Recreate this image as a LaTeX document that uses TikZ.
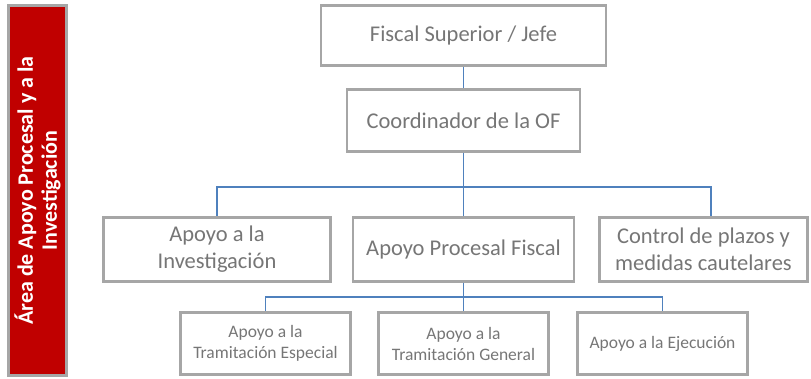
\documentclass[tikz,border=0pt]{standalone}
\usepackage{fontspec}
\setmainfont{Carlito}
\usepackage{tikz}

\definecolor{barred}{RGB}{192,0,0}
\definecolor{boxgray}{RGB}{166,166,166}
\definecolor{txtgray}{RGB}{118,118,118}
\definecolor{linkblue}{RGB}{79,129,189}

\tikzset{
unit/.style={draw=boxgray,line width=2.5pt,text=txtgray,align=center,inner sep=0pt,font=\fontsize{22.5}{27}\selectfont},
subunit/.style={unit,font=\fontsize{17.5}{21}\selectfont},
areabar/.style={draw=boxgray,fill=barred,line width=2.5pt,text=white,align=center,inner sep=0pt,rotate=90,font=\bfseries\fontsize{22}{24}\selectfont},
link/.style={draw=linkblue,line width=1.2pt}
}

\begin{document}
\begin{tikzpicture}[x=1pt,y=-1pt]
\useasboundingbox (0,0) rectangle (811,378);
\draw
(463.5,35.5) node[unit,minimum width=285,minimum height=60](jefe){Fiscal Superior / Jefe}
(463.5,120.5) node[unit,minimum width=233,minimum height=62](coord){Coordinador de la OF}
(217,249.5) node[unit,minimum width=227,minimum height=64](inv){Apoyo a la\\Investigación}
(463.5,249.5) node[unit,minimum width=221,minimum height=64](apf){Apoyo Procesal Fiscal}
(703.5,249.5) node[unit,minimum width=208,minimum height=64](ctrl){Control de plazos y\\medidas cautelares}
(265.5,343.5) node[subunit,minimum width=170,minimum height=62](te){Apoyo a la\\Tramitación Especial}
(463.5,343.5) node[subunit,minimum width=170,minimum height=62](tg){Apoyo a la\\Tramitación General}
(662.5,343.5) node[subunit,minimum width=170,minimum height=62](ej){Apoyo a la Ejecución}
(37.5,190.5) node[areabar,minimum width=370,minimum height=58](area){Área de Apoyo Procesal y a la\\Investigación}
;
\coordinate (bus1) at (463.5,187);
\coordinate (bus2) at (463.5,297);
\coordinate (ctrltop) at ([xshift=7.5pt]ctrl.north);

\draw[link](jefe)--(coord);
\foreach \n in {inv.north,apf.north,ctrltop}{
\draw[link](coord.south)|-(bus1)-|(\n);
}
\foreach \n in {te,tg,ej}{
\draw[link](apf.south)|-(bus2)-|(\n.north);
}
\end{tikzpicture}
\end{document}
